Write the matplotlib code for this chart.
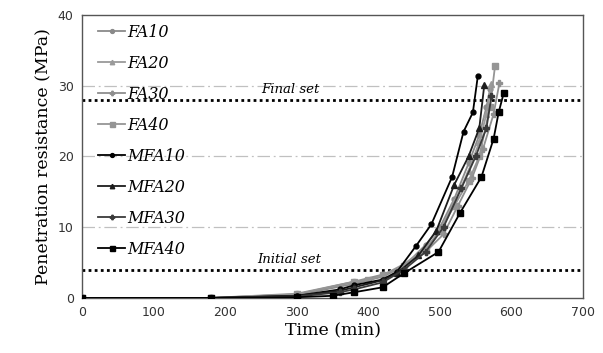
import matplotlib
matplotlib.use("Agg")
import matplotlib.pyplot as plt

series = ["FA10", "FA20", "FA30", "FA40", "MFA10", "MFA20", "MFA30", "MFA40"]

t_fa10 = [0, 180, 300, 380, 420, 450, 480, 500, 520, 540, 555, 565, 570]
v_fa10 = [0, 0, 0.4, 2.0, 3.0, 4.5, 7.5, 10.0, 14.0, 19.0, 23.0, 27.0, 29.5]
t_fa20 = [0, 180, 300, 380, 420, 450, 480, 500, 520, 540, 555, 565, 572]
v_fa20 = [0, 0, 0.5, 2.2, 3.2, 4.8, 7.0, 9.5, 13.5, 18.0, 22.0, 26.0, 30.2]
t_fa30 = [0, 180, 300, 380, 420, 450, 480, 505, 525, 545, 560, 575, 583]
v_fa30 = [0, 0, 0.5, 2.3, 3.3, 4.5, 6.5, 9.0, 13.0, 17.0, 21.0, 26.0, 30.3]
t_fa40 = [0, 180, 300, 380, 400, 420, 450, 480, 500, 520, 540, 555, 570, 577]
v_fa40 = [0, 0, 0.6, 2.3, 2.5, 3.2, 4.5, 6.8, 9.5, 13.0, 16.5, 20.0, 27.0, 32.8]
t_mfa10 = [0, 180, 300, 360, 380, 420, 440, 467, 488, 517, 533, 546, 553]
v_mfa10 = [0, 0, 0.3, 1.2, 1.8, 2.6, 3.7, 7.4, 10.4, 17.1, 23.5, 26.2, 31.4]
t_mfa20 = [0, 180, 300, 360, 380, 420, 440, 470, 495, 520, 540, 555, 562]
v_mfa20 = [0, 0, 0.3, 1.0, 1.5, 2.5, 3.5, 6.0, 9.5, 16.0, 20.0, 24.0, 30.1]
t_mfa30 = [0, 180, 300, 360, 380, 420, 450, 480, 505, 530, 550, 565, 572]
v_mfa30 = [0, 0, 0.2, 0.8, 1.2, 2.2, 4.0, 6.5, 10.0, 15.5, 20.0, 24.0, 28.5]
t_mfa40 = [0, 180, 300, 350, 380, 420, 450, 498, 528, 558, 575, 582, 589]
v_mfa40 = [0, 0, 0.1, 0.3, 0.8, 1.5, 3.5, 6.5, 12.0, 17.1, 22.5, 26.2, 28.9]

times = [t_fa10, t_fa20, t_fa30, t_fa40, t_mfa10, t_mfa20, t_mfa30, t_mfa40]
values = [v_fa10, v_fa20, v_fa30, v_fa40, v_mfa10, v_mfa20, v_mfa30, v_mfa40]

initial_set = 4.0
final_set = 28.0

colors = ["#8a8a8a", "#9a9a9a", "#8f8f8f", "#959595",
          "#000000", "#1c1c1c", "#3a3a3a", "#000000"]
markers = ["o", "^", "P", "s", "o", "^", "P", "s"]
msizes = [3.5, 4, 4, 4.5, 3.5, 4, 4, 4.5]

fig = plt.figure(figsize=(6.03, 3.53), dpi=100)
ax = fig.add_axes([0.136, 0.156, 0.831, 0.802])

for y in [10, 20, 30]:
    ax.axhline(y, color="#c0c0c0", lw=0.9, dashes=(10, 3, 1.5, 3), zorder=1)

for name, t, v, c, m, ms in zip(series, times, values, colors, markers, msizes):
    ax.plot(t, v, color=c, marker=m, markersize=ms, lw=1.3, label=name, zorder=3)

ax.axhline(final_set, color="black", lw=2, linestyle=(0, (1, 1.2)), zorder=2)
ax.axhline(initial_set, color="black", lw=2, linestyle=(0, (1, 1.2)), zorder=2)
ax.text(291, final_set + 0.5, "Final set", family="DejaVu Serif", style="italic",
        fontsize=9.5, ha="center", va="bottom")
ax.text(289, initial_set + 0.5, "Initial set", family="DejaVu Serif", style="italic",
        fontsize=9.5, ha="center", va="bottom")

ax.set_xlim(0, 700)
ax.set_ylim(0, 40)
ax.set_xticks(range(0, 701, 100))
ax.set_yticks(range(0, 41, 10))
ax.tick_params(length=0, labelsize=9, labelcolor="#333333", pad=6)
for s in ax.spines.values():
    s.set_color("#555555")
    s.set_linewidth(1)

ax.set_xlabel("Time (min)", family="DejaVu Serif", fontsize=12.5, labelpad=2)
ax.set_ylabel("Penetration resistance (MPa)", family="DejaVu Serif", fontsize=12.5, labelpad=4)

ax.legend(loc="upper left", frameon=False, prop={"family": "DejaVu Serif", "style": "italic", "size": 11.5},
          handlelength=1.7, handletextpad=0.1, labelspacing=0.88, markerscale=0.8,
          borderaxespad=0.15, bbox_to_anchor=(0.015, 1.0))

fig.savefig("out.png", dpi=100)
